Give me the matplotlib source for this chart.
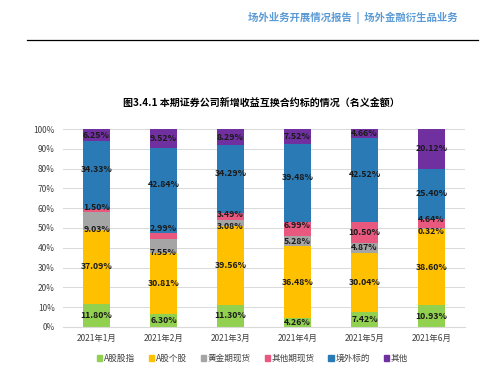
import matplotlib.pyplot as plt
from matplotlib.lines import Line2D
from matplotlib.patches import Patch
import numpy as np

plt.rcParams['font.family'] = ['Noto Sans CJK SC', 'DejaVu Sans']

months = ['2021年1月', '2021年2月', '2021年3月', '2021年4月', '2021年5月', '2021年6月']
series_names = ['A股股指', 'A股个股', '黄金期现货', '其他期现货', '境外标的', '其他']
a_index = [11.80, 6.30, 11.30, 4.26, 7.42, 10.93]
a_stock = [37.09, 30.81, 39.56, 36.48, 30.04, 38.60]
gold = [9.03, 7.55, 3.08, 5.28, 4.87, 0.32]
other_fut = [1.50, 2.99, 3.49, 6.99, 10.50, 4.64]
overseas = [34.33, 42.84, 34.29, 39.48, 42.52, 25.40]
others = [6.25, 9.52, 8.29, 7.52, 4.66, 20.12]
colors = ['#92D050', '#FFC000', '#A5A5A5', '#E8587F', '#2A7AB5', '#7030A0']

data = [a_index, a_stock, gold, other_fut, overseas, others]

# label nudges (in % points) so small segments' labels don't collide, as in the original
nudge = {(2, 0): -4.4, (3, 0): 1.9, (4, 0): 3,
         (2, 1): -3.5, (3, 1): 3.8, (4, 1): 3,
         (2, 2): -1.9, (3, 2): 1.0, (4, 2): 3,
         (3, 3): 1.5, (4, 3): 3,
         (4, 4): 2.7,
         (2, 5): -1.4, (3, 5): 2.0}

fig = plt.figure(figsize=(5, 3.91), dpi=100)

# page header
fig.text(0.916, 0.955, '场外业务开展情况报告  |  场外金融衍生品业务', ha='right', va='center',
         fontsize=7.5, color='#5B9BD5', fontweight='bold')
fig.add_artist(Line2D([0.054, 0.956], [0.897, 0.897], color='black', lw=0.9))

fig.text(0.522, 0.736, '图3.4.1 本期证券公司新增收益互换合约标的情况（名义金额）',
         ha='center', va='center', fontsize=7.2, fontweight='bold')

ax = fig.add_axes([0.126, 0.164, 0.804, 0.506])
x = np.arange(len(months))
bottom = np.zeros(len(months))
for si, (vals, c) in enumerate(zip(data, colors)):
    vals = np.array(vals)
    ax.bar(x, vals, 0.4, bottom=bottom, color=c, zorder=2)
    for xi, b, v in zip(x, bottom, vals):
        ax.text(xi, b + v / 2 + nudge.get((si, xi), 0), f'{v:.2f}%', ha='center', va='center',
                fontsize=6.3, color='#1a1a1a', fontweight='bold', zorder=3)
    bottom += vals

ax.set_xlim(-0.5, 5.5)
ax.set_ylim(0, 100)
ax.set_yticks(range(0, 101, 10))
ax.set_yticklabels([f'{v}%' for v in range(0, 101, 10)])
ax.set_xticks(x)
ax.set_xticklabels(months)
ax.grid(axis='y', color='#d9d9d9', lw=0.7, zorder=0)
for s in ['top', 'right', 'left']:
    ax.spines[s].set_visible(False)
ax.spines['bottom'].set_color('#d9d9d9')
ax.tick_params(length=0, labelsize=6, colors='#404040', pad=5)
ax.tick_params(axis='y', pad=6)

handles = [Patch(color=c, label=n) for c, n in zip(colors, series_names)]
fig.legend(handles=handles, loc='center', bbox_to_anchor=(0.505, 0.083), ncol=6,
           frameon=False, fontsize=6.2, handlelength=0.6, handleheight=0.6,
           handletextpad=0.2, columnspacing=1.6, labelcolor='#404040')

fig.savefig('out.png', dpi=100)
